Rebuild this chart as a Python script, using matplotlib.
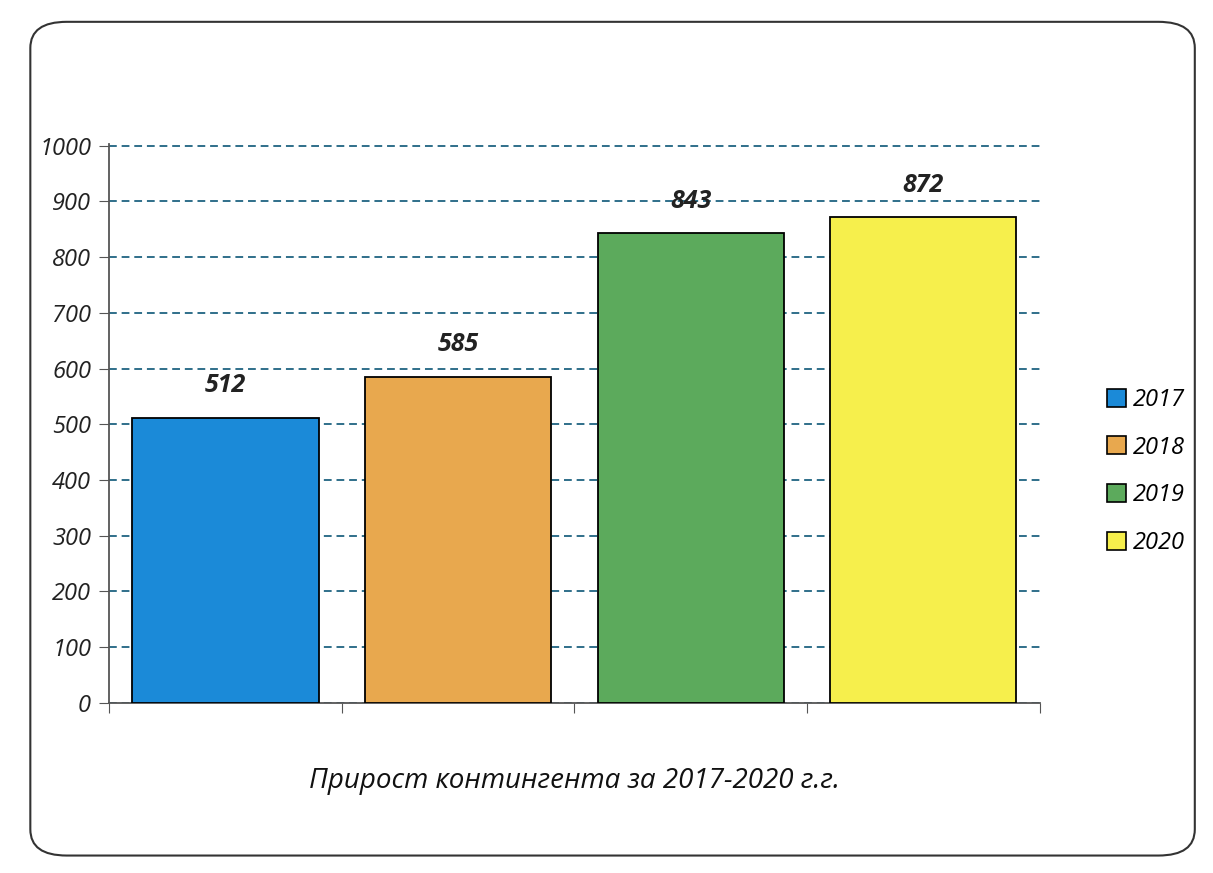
import numpy as np
import matplotlib.pyplot as plt
from matplotlib.patches import FancyBboxPatch, Patch

years = ['2017', '2018', '2019', '2020']
values = [512, 585, 843, 872]
colors = ['#1b8ad8', '#e8a84e', '#5caa5c', '#f6ef4c']
yticks = [0, 100, 200, 300, 400, 500, 600, 700, 800, 900, 1000]
xlabel = 'Прирост контингента за 2017-2020 г.г.'

plt.rcParams['font.family'] = ['Open Sans', 'DejaVu Sans']

fig = plt.figure(figsize=(12.13, 8.73), dpi=100)

# rounded frame around the chart
frame = FancyBboxPatch((0.025, 0.02), 0.96, 0.955, boxstyle='round,pad=0,rounding_size=0.03',
                       transform=fig.transFigure, fill=False, edgecolor='#333333', linewidth=1.5)
fig.patches.append(frame)

ax = fig.add_axes([0.09, 0.195, 0.767, 0.64])
x = np.arange(len(years))
bars = ax.bar(x, values, width=0.8, color=colors, edgecolor='black', linewidth=1.3, zorder=3)

for xi, v in zip(x, values):
    ax.text(xi, v + 35, str(v), ha='center', va='bottom', fontsize=18,
            fontweight='bold', style='italic', color='#222222')

ax.set_ylim(0, 1003)
ax.set_xlim(-0.5, len(years) - 0.5)
ax.set_yticks(yticks)
ax.set_yticklabels([str(t) for t in yticks], fontsize=17, style='italic', color='#222222')
ax.yaxis.grid(True, linestyle=(0, (4, 2.5)), color='#2f6f8a', linewidth=1.4, zorder=0)
ax.set_xticks(np.arange(len(years) + 1) - 0.5)
ax.set_xticklabels([])
ax.tick_params(axis='x', length=7, color='#555555')
ax.tick_params(axis='y', length=7, color='#555555', pad=6)

for side in ['top', 'right']:
    ax.spines[side].set_visible(False)
ax.spines['left'].set_color('#555555')
ax.spines['bottom'].set_color('#555555')
ax.spines['left'].set_linewidth(1.3)
ax.spines['bottom'].set_linewidth(1.3)

ax.set_xlabel(xlabel, fontsize=20, style='italic', labelpad=36, color='#111111')

handles = [Patch(facecolor=c, edgecolor='black', linewidth=1.2) for c in colors]
leg = fig.legend(handles, years, loc='center left', bbox_to_anchor=(0.895, 0.46),
                 frameon=False, fontsize=17, handlelength=0.8, handleheight=0.8,
                 labelspacing=1.0, handletextpad=0.3)
for t in leg.get_texts():
    t.set_style('italic')

fig.savefig('out.png', dpi=100)
